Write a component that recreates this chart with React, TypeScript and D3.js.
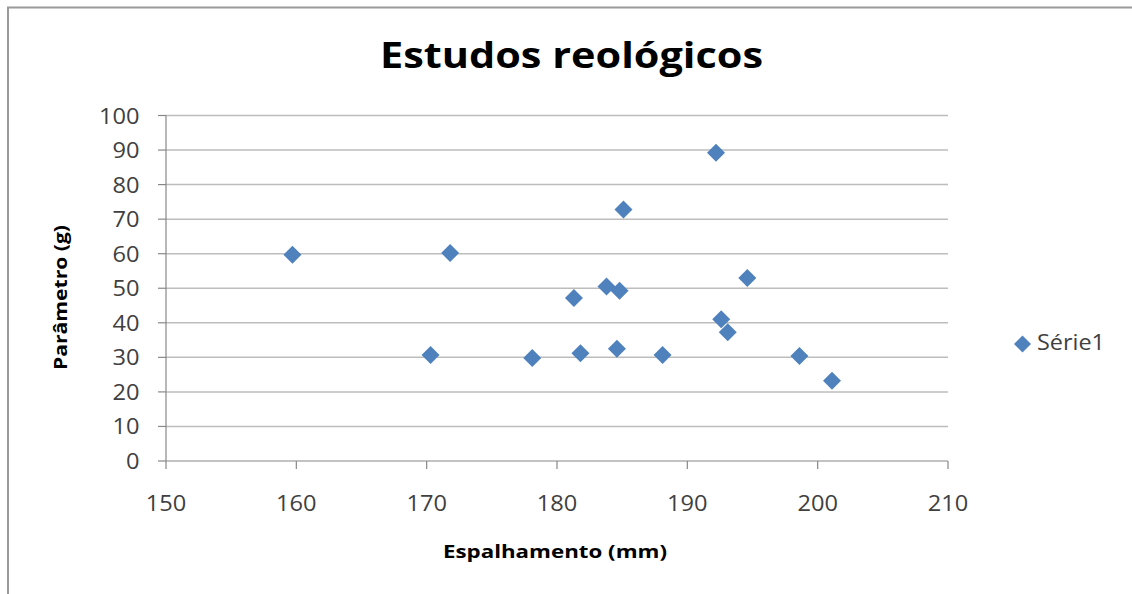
import React from "react";
import * as d3 from "d3";

const xValues = [159.7, 171.8, 170.3, 178.1, 181.3, 181.8, 183.8, 184.8, 184.6, 185.1, 188.1, 192.2, 192.6, 193.1, 194.6, 198.6, 201.1];
const yValues = [59.7, 60.2, 30.7, 29.8, 47.2, 31.2, 50.5, 49.3, 32.5, 72.8, 30.7, 89.2, 41.0, 37.3, 53.0, 30.4, 23.2];
const xTicks = [150, 160, 170, 180, 190, 200, 210];
const yTicks = [0, 10, 20, 30, 40, 50, 60, 70, 80, 90, 100];
const title = "Estudos reológicos";
const xTitle = "Espalhamento (mm)";
const yTitle = "Parâmetro (g)";
const seriesName = "Série1";

const W = 1132;
const H = 594;
const FONT = "'Open Sans', 'Noto Sans', sans-serif";
const DIGIT_W = 13.5;

export default function App() {
  const x = d3.scaleLinear().domain([150, 210]).range([166, 948]);
  const y = d3.scaleLinear().domain([0, 100]).range([461, 115.5]);
  const diamond = (cx: number, cy: number, r: number) =>
    `M${cx},${cy - r}L${cx + r},${cy}L${cx},${cy + r}L${cx - r},${cy}Z`;
  const pts = xValues.map((v, i) => ({ x: v, y: yValues[i] }));

  return (
    <div style={{ position: "fixed", left: 0, top: 0 }}>
      <svg width={W} height={H} style={{ display: "block", background: "#fff" }}>
        <rect x={8} y={7.5} width={1140} height={600} fill="#fff" stroke="#9a9a9a" strokeWidth={2} />
        <text
          x={380}
          y={68}
          textLength={383}
          lengthAdjust="spacingAndGlyphs"
          fontFamily={FONT}
          fontWeight="bold"
          fontSize={35}
          fill="#000"
        >
          {title}
        </text>
        {yTicks.map((t) => (
          <g key={"y" + t}>
            {t > 0 && (
              <line x1={166} x2={948} y1={y(t)} y2={y(t)} stroke="#bdbdbd" strokeWidth={1.5} />
            )}
            <line x1={158} x2={166} y1={y(t)} y2={y(t)} stroke="#888" strokeWidth={1.2} />
            <text
              x={139.5 - String(t).length * DIGIT_W}
              y={y(t) + 8}
              textLength={String(t).length * DIGIT_W}
              lengthAdjust="spacingAndGlyphs"
              fontFamily={FONT}
              fontSize={21.5}
              fill="#404040"
            >
              {t}
            </text>
          </g>
        ))}
        <line x1={166} x2={166} y1={y(100)} y2={y(0)} stroke="#888" strokeWidth={1.2} />
        <line x1={166} x2={948} y1={y(0)} y2={y(0)} stroke="#888" strokeWidth={1.2} />
        {xTicks.map((t) => (
          <g key={"x" + t}>
            <line x1={x(t)} x2={x(t)} y1={y(0)} y2={y(0) + 8} stroke="#888" strokeWidth={1.2} />
            <text
              x={x(t) - (String(t).length * DIGIT_W) / 2}
              y={510.5}
              textLength={String(t).length * DIGIT_W}
              lengthAdjust="spacingAndGlyphs"
              fontFamily={FONT}
              fontSize={21.5}
              fill="#404040"
            >
              {t}
            </text>
          </g>
        ))}
        {pts.map((p, i) => (
          <path key={i} d={diamond(x(p.x), y(p.y), 9)} fill="#4F81BD" />
        ))}
        <text
          x={443}
          y={558}
          textLength={224}
          lengthAdjust="spacingAndGlyphs"
          fontFamily={FONT}
          fontWeight="bold"
          fontSize={18.5}
          fill="#000"
        >
          {xTitle}
        </text>
        <text
          transform={`translate(67,370) rotate(-90)`}
          textLength={145}
          lengthAdjust="spacingAndGlyphs"
          fontFamily={FONT}
          fontWeight="bold"
          fontSize={18.5}
          fill="#000"
        >
          {yTitle}
        </text>
        <path d={diamond(1022.5, 344, 8.5)} fill="#4F81BD" />
        <text
          x={1037}
          y={350}
          textLength={68}
          lengthAdjust="spacingAndGlyphs"
          fontFamily={FONT}
          fontSize={21.5}
          fill="#404040"
        >
          {seriesName}
        </text>
      </svg>
    </div>
  );
}
